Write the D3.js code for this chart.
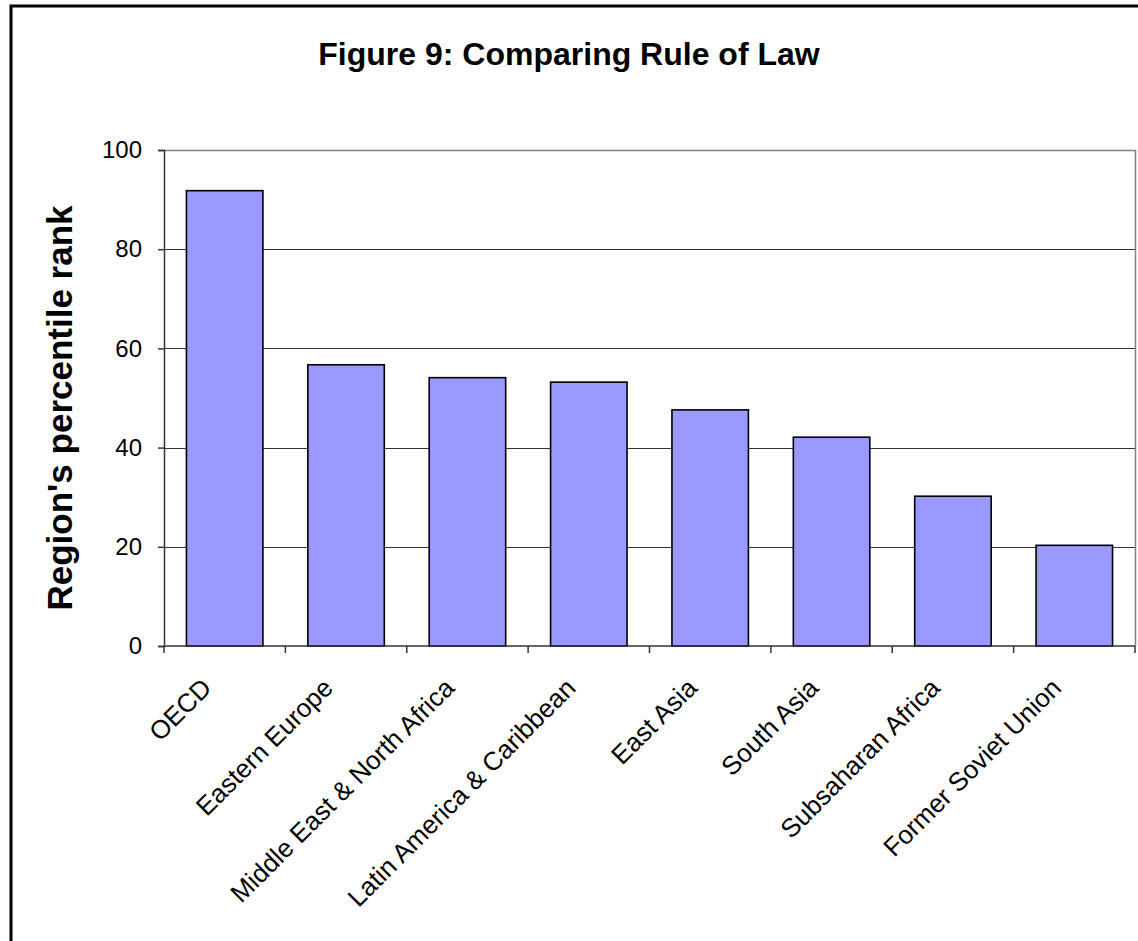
<!DOCTYPE html>
<html>
<head>
<meta charset="utf-8">
<script src="https://cdn.jsdelivr.net/npm/d3@7"></script>
<style>
  html, body { margin: 0; padding: 0; background: #fff; }
  svg { display: block; }
  text { font-family: "Liberation Sans", Arial, sans-serif; fill: #000; }
</style>
</head>
<body>
<svg id="chart" width="1138" height="941"></svg>
<script>
const categories = ["OECD", "Eastern Europe", "Middle East & North Africa", "Latin America & Caribbean",
  "East Asia", "South Asia", "Subsaharan Africa", "Former Soviet Union"];
const values = [91.8, 56.7, 54.1, 53.2, 47.6, 42.1, 30.2, 20.3];
const yTicks = [0, 20, 40, 60, 80, 100];
const titleText = "Figure 9: Comparing Rule of Law";
const yLabel = "Region's percentile rank";

const svg = d3.select("#chart");
const W = 1138, H = 941;
const plot = { left: 164, right: 1135, top: 150, bottom: 646 };

svg.append("rect").attr("width", W).attr("height", H).attr("fill", "#fff");
// outer chart frame
svg.append("rect").attr("x", 11).attr("y", 6).attr("width", 2000).attr("height", 2000)
  .attr("fill", "none").attr("stroke", "#000").attr("stroke-width", 3);

const x = d3.scaleBand().domain(categories).range([plot.left, plot.right])
  .paddingInner(0.37).paddingOuter(0.185);
const y = d3.scaleLinear().domain([0, 100]).range([plot.bottom, plot.top]);

// gridlines
svg.append("g").selectAll("line").data(yTicks.filter(d => d > 0 && d < 100)).join("line")
  .attr("x1", plot.left).attr("x2", plot.right)
  .attr("y1", d => Math.round(y(d)) + 0.5).attr("y2", d => Math.round(y(d)) + 0.5)
  .attr("stroke", "#333").attr("stroke-width", 1);

// plot area border (top & right)
svg.append("path")
  .attr("d", `M${plot.left},${plot.top + 0.5}H${plot.right + 0.5}V${plot.bottom}`)
  .attr("fill", "none").attr("stroke", "#808080").attr("stroke-width", 1.5);

// bars
svg.append("g").selectAll("rect").data(values).join("rect")
  .attr("x", (d, i) => x(categories[i]))
  .attr("y", d => y(d))
  .attr("width", x.bandwidth())
  .attr("height", d => y(0) - y(d))
  .attr("fill", "#9999FF").attr("stroke", "#000").attr("stroke-width", 1.6);

// y axis
const yAxis = d3.axisLeft(y).tickValues(yTicks).tickSize(6).tickPadding(16);
const gy = svg.append("g").attr("transform", `translate(${plot.left},0)`).call(yAxis);
gy.select(".domain").attr("stroke", "#333").attr("stroke-width", 1.5);
gy.selectAll(".tick line").attr("stroke", "#333").attr("stroke-width", 1.5);
gy.selectAll(".tick text").attr("font-size", 24).attr("font-family", "Liberation Sans, Arial, sans-serif").attr("fill", "#000");

// x axis: ticks at category boundaries
const step = x.step();
const boundaries = d3.range(categories.length + 1).map(i => plot.left + i * step);
svg.append("line").attr("x1", plot.left).attr("x2", plot.right)
  .attr("y1", plot.bottom).attr("y2", plot.bottom)
  .attr("stroke", "#333").attr("stroke-width", 1.5);
svg.append("g").selectAll("line").data(boundaries).join("line")
  .attr("x1", d => d).attr("x2", d => d)
  .attr("y1", plot.bottom).attr("y2", plot.bottom + 7)
  .attr("stroke", "#333").attr("stroke-width", 1.5);

// category labels
svg.append("g").selectAll("text").data(categories).join("text")
  .attr("transform", d => `translate(${x(d) + x.bandwidth() / 2 - 18},683) rotate(-45)`)
  .attr("text-anchor", "end").attr("dy", "0.35em")
  .attr("font-size", 26)
  .text(d => d);

// title
svg.append("text").attr("x", 569).attr("y", 65).attr("text-anchor", "middle")
  .attr("font-size", 32).attr("font-weight", "bold").text(titleText);

// y label
svg.append("text").attr("transform", `translate(72,408) rotate(-90)`)
  .attr("text-anchor", "middle").attr("font-size", 35).attr("font-weight", "bold").text(yLabel);
</script>
</body>
</html>
